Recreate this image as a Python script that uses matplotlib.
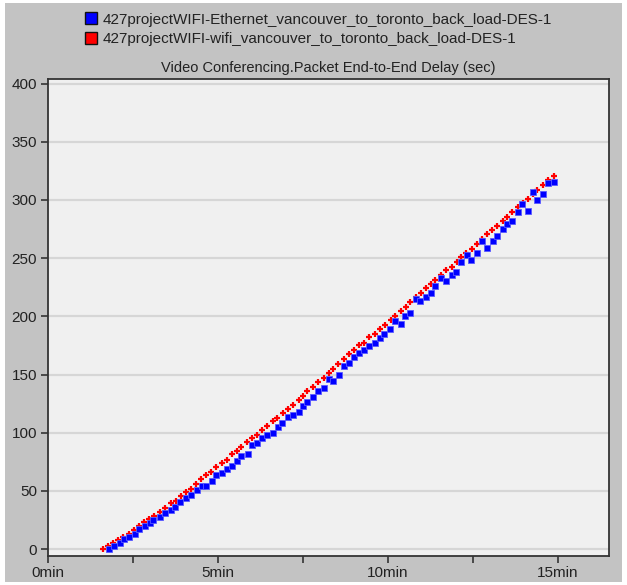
import matplotlib
matplotlib.use("Agg")
import matplotlib.pyplot as plt
from matplotlib.patches import Rectangle
from matplotlib.lines import Line2D

# Data (time in minutes, delay in seconds)
eth_label = "427projectWIFI-Ethernet_vancouver_to_toronto_back_load-DES-1"
wifi_label = "427projectWIFI-wifi_vancouver_to_toronto_back_load-DES-1"
title = "Video Conferencing.Packet End-to-End Delay (sec)"

wifi_t = [1.62, 1.77, 1.92, 2.07, 2.22, 2.38, 2.53, 2.68, 2.83, 2.97,
          3.12, 3.29, 3.44, 3.62, 3.76, 3.91, 4.06, 4.21, 4.35, 4.50,
          4.65, 4.79, 4.94, 5.12, 5.26, 5.40, 5.55, 5.69, 5.86, 5.99,
          6.14, 6.30, 6.45, 6.63, 6.74, 6.90, 7.06, 7.22, 7.37, 7.51,
          7.63, 7.80, 7.93, 8.12, 8.26, 8.39, 8.54, 8.70, 8.86, 9.00,
          9.16, 9.30, 9.45, 9.62, 9.76, 9.91, 10.08, 10.21, 10.37, 10.52,
          10.65, 10.82, 10.96, 11.12, 11.25, 11.39, 11.56, 11.71, 11.87, 12.02,
          12.15, 12.29, 12.46, 12.63, 12.76, 12.90, 13.07, 13.21, 13.37, 13.51,
          13.65, 13.81, 13.98, 14.13, 14.26, 14.39, 14.57, 14.71, 14.88]
wifi_delay = [0.0, 2.5, 5.0, 7.5, 10.0, 12.9, 16.5, 19.8, 22.8, 25.8,
              28.4, 31.8, 35.3, 39.6, 41.3, 45.6, 49.0, 51.6, 55.9, 60.2,
              63.7, 66.2, 70.5, 74.0, 76.6, 81.7, 84.6, 88.0, 92.0, 95.5,
              98.3, 102.4, 106.0, 110.0, 112.7, 116.7, 120.2, 124.0, 128.0, 131.6,
              135.6, 139.6, 143.4, 147.4, 151.0, 155.0, 159.0, 163.0, 167.7, 171.0,
              175.0, 177.5, 182.0, 185.0, 189.0, 192.7, 196.7, 200.7, 204.7, 208.4,
              212.0, 216.5, 220.0, 224.0, 228.0, 231.4, 235.4, 239.4, 242.8, 246.9,
              251.0, 254.6, 258.3, 262.6, 266.4, 270.4, 274.4, 278.0, 281.9, 285.8,
              289.6, 293.6, 297.4, 301.0, 305.0, 308.8, 312.9, 316.8, 320.9]

eth_t = [1.80, 1.94, 2.12, 2.24, 2.38, 2.56, 2.69, 2.85, 3.00, 3.08,
         3.29, 3.45, 3.61, 3.74, 3.88, 4.06, 4.20, 4.37, 4.52, 4.65,
         4.81, 4.94, 5.11, 5.26, 5.40, 5.55, 5.69, 5.87, 5.99, 6.14,
         6.30, 6.45, 6.61, 6.76, 6.88, 7.06, 7.20, 7.37, 7.51, 7.63,
         7.80, 7.95, 8.12, 8.27, 8.39, 8.56, 8.70, 8.86, 9.00, 9.14,
         9.30, 9.45, 9.62, 9.76, 9.88, 10.06, 10.20, 10.37, 10.51, 10.65,
         10.82, 10.95, 11.12, 11.25, 11.39, 11.57, 11.70, 11.88, 12.00, 12.14,
         12.31, 12.45, 12.63, 12.76, 12.90, 13.08, 13.21, 13.37, 13.51, 13.65,
         13.82, 13.95, 14.13, 14.26, 14.39, 14.57, 14.71, 14.88]
eth_delay = [0.3, 2.6, 5.4, 8.3, 10.6, 12.9, 16.9, 19.5, 22.4, 24.9,
             27.5, 31.0, 33.5, 36.4, 40.2, 43.9, 46.7, 50.5, 54.2, 54.2,
             58.2, 63.4, 65.0, 68.6, 71.4, 76.0, 80.0, 81.7, 89.0, 90.9,
             95.5, 98.3, 99.5, 104.7, 108.6, 113.8, 115.0, 117.8, 122.8, 126.7,
             130.8, 135.9, 138.5, 146.2, 144.8, 150.0, 157.0, 160.0, 165.0, 168.9,
             171.0, 174.6, 177.2, 181.0, 185.0, 189.0, 196.4, 193.8, 200.4, 203.0,
             214.8, 213.3, 217.0, 220.0, 226.2, 232.9, 230.0, 235.4, 237.7, 246.9,
             252.6, 248.3, 254.6, 264.9, 258.6, 264.9, 268.9, 275.3, 279.3, 281.9,
             289.6, 296.2, 290.8, 306.5, 300.0, 305.2, 314.6, 315.5]

x_ticks = [0, 5, 10, 15]
x_tick_labels = ["0min", "5min", "10min", "15min"]
y_ticks = [0, 50, 100, 150, 200, 250, 300, 350, 400]

plt.rcParams['font.family'] = ['Liberation Sans', 'DejaVu Sans']
text_col = '#222222'

fig = plt.figure(figsize=(6.27, 5.85), dpi=100, facecolor='white')
# gray panel with thin white border, kept behind the axes
fig.patches.append(Rectangle((5 / 627, 3 / 585), 617 / 627, 579 / 585,
                             transform=fig.transFigure, facecolor='#c3c3c3',
                             edgecolor='none', zorder=-10))

ax = fig.add_axes([48 / 627, 29 / 585, 561 / 627, 477 / 585])
ax.set_facecolor('#f0f0f0')

ax.plot(wifi_t, wifi_delay, linestyle='none', marker='+', ms=5, mew=1.6,
        color='#ff0000', zorder=3)
ax.plot(eth_t, eth_delay, linestyle='none', marker='s', ms=3.9, mew=0.6,
        color='#0000ff', mec='#5a5aff', zorder=4)

ax.set_xlim(0, 16.5)
ax.set_ylim(-6, 404)
ax.set_xticks(x_ticks)
ax.set_xticklabels(x_tick_labels)
ax.set_xticks([2.5, 7.5, 12.5], minor=True)
ax.set_yticks(y_ticks)
ax.grid(axis='y', color='#d6d6d6', lw=1.6, zorder=1)
ax.set_axisbelow(True)

for s in ax.spines.values():
    s.set_color('#333333')
    s.set_linewidth(1.3)
ax.tick_params(axis='both', which='both', direction='out', length=5, width=1.2,
               color='#333333', labelsize=11, labelcolor=text_col, pad=3)
ax.tick_params(axis='x', pad=2)

fig.text(0.5 * (48 + 609) / 627, 1 - 68 / 585, title, ha='center', va='center',
         fontsize=10.5, color=text_col)

handles = [Line2D([], [], linestyle='none', marker='s', ms=8.5, mfc='#0000ff',
                  mec='#111111', mew=1.0),
           Line2D([], [], linestyle='none', marker='s', ms=8.5, mfc='#ff0000',
                  mec='#111111', mew=1.0)]
fig.legend(handles, [eth_label, wifi_label], loc='upper left',
           bbox_to_anchor=(76 / 627, 1 - 5 / 585), frameon=False, fontsize=11,
           handlelength=0.9, handletextpad=0.35, labelspacing=0.35,
           labelcolor=text_col, borderpad=0.0)

fig.savefig('out.png', dpi=100, facecolor='white')
